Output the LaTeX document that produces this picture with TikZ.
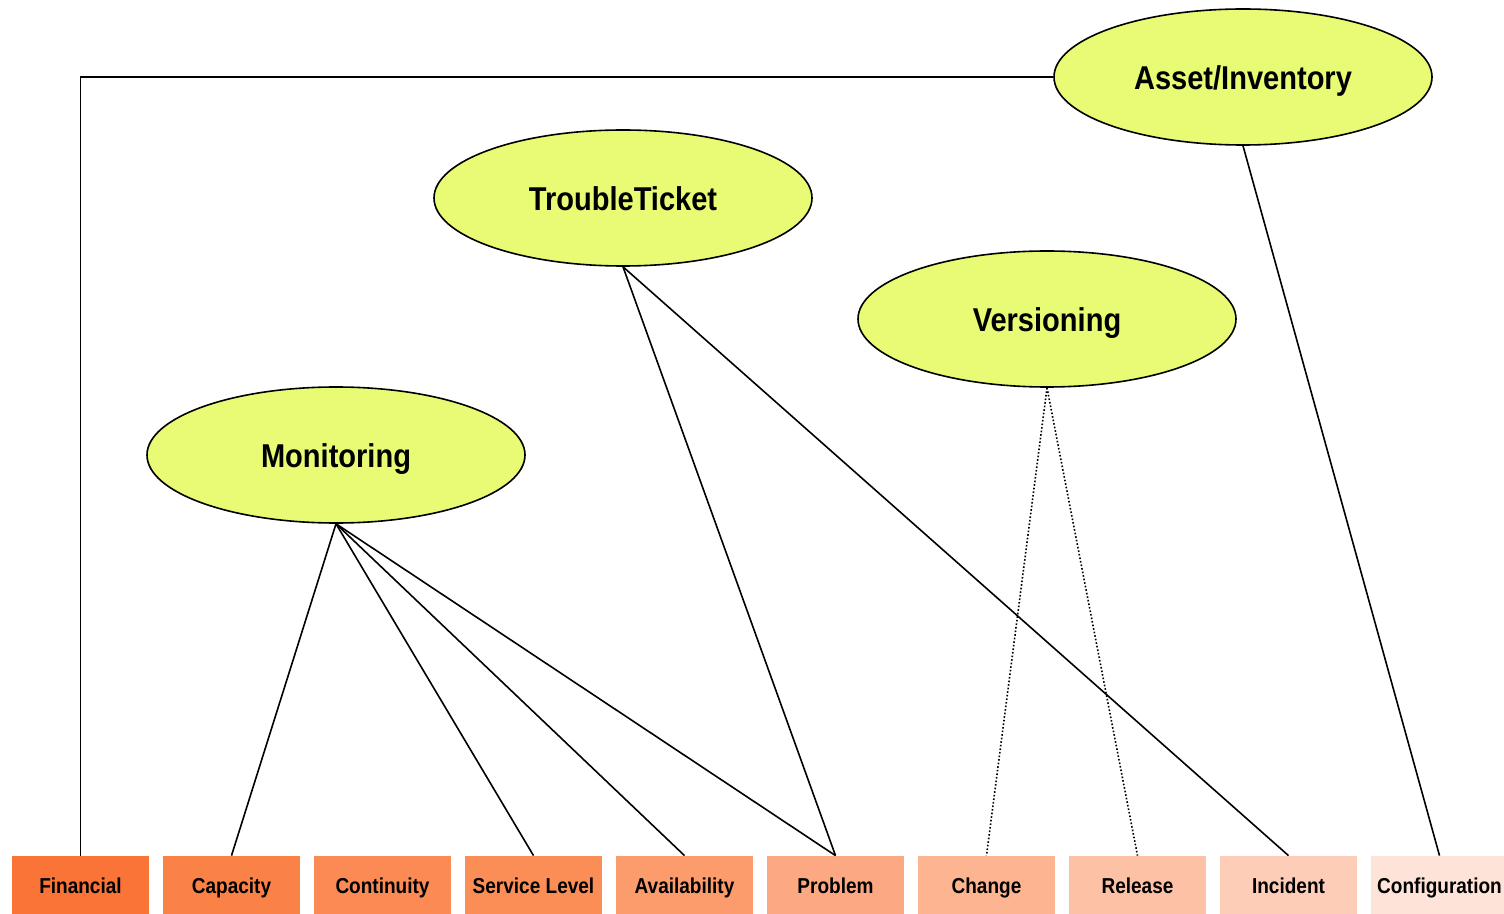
\documentclass[tikz,border=0pt]{standalone}
\usepackage{fontspec}
\setsansfont{Liberation Sans}[FakeStretch=0.88]
\usetikzlibrary{shapes.geometric, positioning}
\definecolor{Lime}{HTML}{E9FA74}
\definecolor{PA}{HTML}{FA7337}
\definecolor{PB}{HTML}{FB8247}
\definecolor{PC}{HTML}{FB8A54}
\definecolor{PD}{HTML}{FB8D57}
\definecolor{PE}{HTML}{FC9B6C}
\definecolor{PF}{HTML}{FCA882}
\definecolor{PG}{HTML}{FDB490}
\definecolor{PH}{HTML}{FDC1A5}
\definecolor{PI}{HTML}{FECDB8}
\definecolor{PJ}{HTML}{FEE4D8}

\begin{document}
\begin{tikzpicture}[x=0.5pt, y=-0.5pt,
    areanode/.style={ellipse, draw, line width=0.8pt, fill=Lime, minimum width=189pt, minimum height=68pt, inner sep=0pt, text height=13.8pt, text depth=1.2pt, font=\sffamily\bfseries\fontsize{16.5}{19}\selectfont},
    procnode/.style={rectangle, minimum width=68.5pt, minimum height=29pt, inner sep=0pt, text height=9.2pt, text depth=0.6pt, font=\sffamily\bfseries\fontsize{10.8}{12}\selectfont},
    link/.style={line width=0.8pt},
    weak/.style={line width=0.8pt, densely dotted}]
    \useasboundingbox (0,0) rectangle (1504,914);

    % --- Domains ---
    \node[areanode] (asset) at (1243, 77) {Asset/Inventory};
    \node[areanode] (ticket) at (623, 198) {TroubleTicket};
    \node[areanode] (version) at (1047, 319) {Versioning};
    \node[areanode] (monitor) at (336, 455) {Monitoring};

    % --- Processes (bottom row) ---
    \node[procnode, fill=PA] (fin) at (80.5, 885) {Financial};
    \node[procnode, fill=PB] (cap) at (231.5, 885) {Capacity};
    \node[procnode, fill=PC] (cont) at (382.5, 885) {Continuity};
    \node[procnode, fill=PD] (sla) at (533.5, 885) {Service Level};
    \node[procnode, fill=PE] (avail) at (684.5, 885) {Availability};
    \node[procnode, fill=PF] (prob) at (835.5, 885) {Problem};
    \node[procnode, fill=PG] (chg) at (986.5, 885) {Change};
    \node[procnode, fill=PH] (rel) at (1137.5, 885) {Release};
    \node[procnode, fill=PI] (inc) at (1288.5, 885) {Incident};
    \node[procnode, fill=PJ] (conf) at (1439.5, 885) {Configuration};

    % --- Links ---
    \draw[link] (fin.north) |- (asset.west);
    \draw[link] (asset.south) -- (conf.north);
    \draw[link] (ticket.south) -- (prob.north);
    \draw[link] (ticket.south) -- (inc.north);
    \draw[weak] (version.south) -- (chg.north);
    \draw[weak] (version.south) -- (rel.north);
    \foreach \t in {cap, sla, avail, prob}
        \draw[link] (monitor.south) -- (\t.north);
\end{tikzpicture}
\end{document}
